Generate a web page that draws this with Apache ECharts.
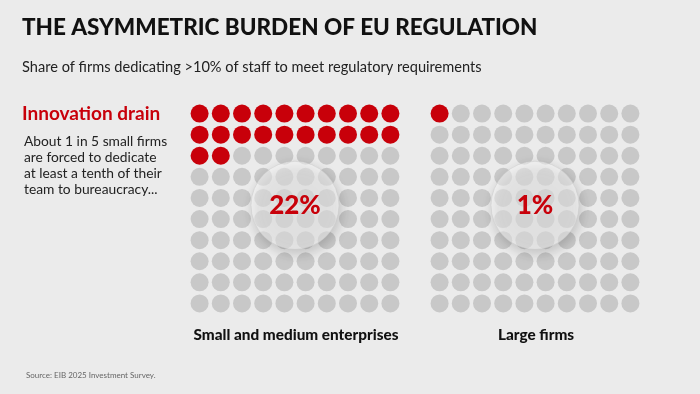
<!DOCTYPE html>
<html>
<head>
<meta charset="utf-8">
<script src="https://cdn.jsdelivr.net/npm/echarts@6/dist/echarts.min.js"></script>
<style>
html,body{margin:0;padding:0;background:#ebebeb;}
#c{width:700px;height:394px;}
</style>
</head>
<body>
<div id="c"></div>
<script>
// ---- data ----
var groups = ['Small and medium enterprises', 'Large firms'];
var shares = [22, 1];           // % of firms dedicating >10% of staff
var shareLabels = ['22%', '1%'];
var gridCols = [0,1,2,3,4,5,6,7,8,9];
var gridRows = [0,1,2,3,4,5,6,7,8,9];

var titleText = 'THE ASYMMETRIC BURDEN OF EU REGULATION';
var subtitleText = 'Share of firms dedicating >10% of staff to meet regulatory requirements';
var calloutTitle = 'Innovation drain';
var calloutLines = ['About 1 in 5 small firms', 'are forced to dedicate', 'at least a tenth of their', 'team to bureaucracy...'];
var sourceText = 'Source: EIB 2025 Investment Survey.';

var RED = '#c8000a', GREY = '#c8c8c8';
var FONT = 'Lato, "Open Sans", sans-serif';

function cells(share) {
  var on = [], off = [];
  gridRows.forEach(function (r) {
    gridCols.forEach(function (c) {
      var idx = r * gridCols.length + c;
      (idx < share ? on : off).push([c, r]);
    });
  });
  return {on: on, off: off};
}

var grids = [], xAxes = [], yAxes = [], series = [];
var lefts = [189, 429];
groups.forEach(function (g, i) {
  grids.push({left: lefts[i], top: 103, width: 212, height: 211});
  xAxes.push({gridIndex: i, type: 'value', min: -0.5, max: 9.5, show: false});
  yAxes.push({gridIndex: i, type: 'value', min: -0.5, max: 9.5, inverse: true, show: false});
  var d = cells(shares[i]);
  series.push({type: 'scatter', xAxisIndex: i, yAxisIndex: i, data: d.off, symbolSize: 18,
    itemStyle: {color: GREY, opacity: 1}, silent: true, animation: false});
  series.push({type: 'scatter', xAxisIndex: i, yAxisIndex: i, data: d.on, symbolSize: 18,
    itemStyle: {color: RED, opacity: 1}, silent: true, animation: false});
  series.push({type: 'scatter', xAxisIndex: i, yAxisIndex: i, z: 5,
    data: [[(gridCols.length - 1) / 2, 4.35]], symbolSize: 88,
    itemStyle: {color: 'rgba(255,255,255,0.5)', opacity: 1, borderColor: 'rgba(200,200,200,0.6)', borderWidth: 0.8,
      shadowBlur: 12, shadowOffsetX: 2, shadowOffsetY: 4, shadowColor: 'rgba(0,0,0,0.35)'},
    label: {show: true, position: 'inside', formatter: shareLabels[i], color: RED,
      fontFamily: FONT, fontWeight: 900, fontSize: 26},
    silent: true, animation: false});
});

var graphics = [
  {type: 'text', left: 22, top: 16, style: {text: titleText, fill: '#111', font: '900 22.5px ' + FONT}},
  {type: 'text', left: 22, top: 60, style: {text: subtitleText, fill: '#222', font: '14.6px ' + FONT}},
  {type: 'text', left: 22, top: 104, style: {text: calloutTitle, fill: RED, font: 'bold 19px ' + FONT}},
  {type: 'text', left: 24, top: 134, style: {text: calloutLines.join('\n'), fill: '#222', font: '13.8px ' + FONT, lineHeight: 15.8}},
  {type: 'text', left: 26, top: 371, style: {text: sourceText, fill: '#666', font: '8px ' + FONT}}
];
groups.forEach(function (g, i) {
  graphics.push({type: 'text', x: lefts[i] + 107, y: 335, style: {text: g, fill: '#111',
    font: '900 15.3px ' + FONT, align: 'center', verticalAlign: 'middle'}});
});

var chart = echarts.init(document.getElementById('c'), null, {renderer: 'canvas'});
chart.setOption({
  backgroundColor: '#ebebeb',
  animation: false,
  grid: grids, xAxis: xAxes, yAxis: yAxes, series: series,
  graphic: graphics
});
</script>
</body>
</html>
